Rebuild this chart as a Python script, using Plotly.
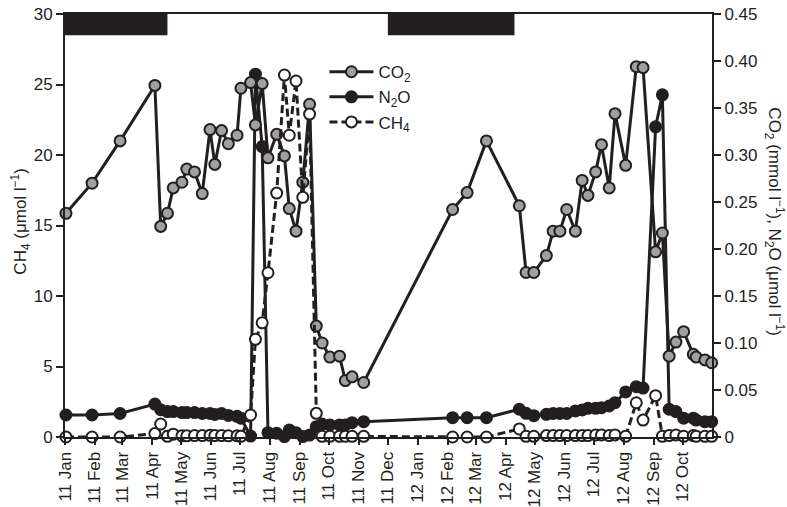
import plotly.graph_objects as go

# ---------------- data ----------------
dates = [
    "2011-01-02", "2011-01-29", "2011-02-27", "2011-04-04", "2011-04-10", "2011-04-17",
    "2011-04-23", "2011-05-02", "2011-05-07", "2011-05-15", "2011-05-23", "2011-05-31",
    "2011-06-05", "2011-06-12", "2011-06-19", "2011-06-28", "2011-07-02", "2011-07-12",
    "2011-07-17", "2011-07-24", "2011-07-30", "2011-08-08", "2011-08-16", "2011-08-21",
    "2011-08-28", "2011-09-04", "2011-09-11", "2011-09-18", "2011-09-24", "2011-10-02",
    "2011-10-12", "2011-10-18", "2011-10-25", "2011-11-06",
    "2012-02-06", "2012-02-21", "2012-03-12", "2012-04-15", "2012-04-22", "2012-04-30",
    "2012-05-13", "2012-05-20", "2012-05-27", "2012-06-03", "2012-06-12", "2012-06-19",
    "2012-06-25", "2012-07-03", "2012-07-09", "2012-07-17", "2012-07-23", "2012-08-03",
    "2012-08-14", "2012-08-21", "2012-09-03", "2012-09-10", "2012-09-17", "2012-09-24",
    "2012-10-02", "2012-10-12", "2012-10-15", "2012-10-24", "2012-10-31",
]

co2 = [  # mmol l-1 (right axis)
    0.238, 0.270, 0.315, 0.374, 0.224, 0.238, 0.265, 0.271, 0.285, 0.282, 0.259, 0.327,
    0.290, 0.326, 0.312, 0.321, 0.371, 0.377, 0.332, 0.376, 0.297, 0.322, 0.299, 0.243,
    0.219, 0.271, 0.354, 0.118, 0.100, 0.085, 0.086, 0.060, 0.064, 0.058,
    0.242, 0.260, 0.315, 0.246, 0.175, 0.175, 0.193, 0.219, 0.219, 0.242, 0.219, 0.273,
    0.257, 0.282, 0.311, 0.265, 0.344, 0.289, 0.394, 0.393, 0.197, 0.217, 0.086, 0.101,
    0.112, 0.088, 0.085, 0.082, 0.079,
]

n2o = [  # umol l-1 (right axis)
    0.0234, 0.0234, 0.025, 0.035, 0.029, 0.027, 0.027, 0.026, 0.026, 0.026, 0.025, 0.025,
    0.024, 0.025, 0.023, 0.022, 0.020, 0.001, 0.386, 0.309, 0.0046, 0.004, 0.0005, 0.0075,
    0.0046, 0.0005, 0.002, 0.011, 0.0138, 0.0128, 0.0128, 0.0128, 0.0152, 0.0163,
    0.0206, 0.0206, 0.0206, 0.0295, 0.0252, 0.0227, 0.0241, 0.025, 0.025, 0.025, 0.0277, 0.0287,
    0.0305, 0.0305, 0.0312, 0.033, 0.0365, 0.048, 0.0535, 0.052, 0.330, 0.364, 0.0295, 0.027,
    0.020, 0.020, 0.018, 0.0163, 0.0163,
]

ch4 = [  # umol l-1 (left axis)
    0, 0, 0, 0.24, 0.92, 0.05, 0.2, 0.08, 0.08, 0.1, 0.1, 0.12,
    0.1, 0.1, 0.08, 0.08, 0.05, 1.56, 6.93, 8.1, 11.65, 17.3, 25.67, 21.4,
    25.25, 17.0, 22.9, 1.68, 0.05, 0.05, 0.05, 0.05, 0.05, 0.05,
    0, 0, 0, 0.57, 0.05, 0.05, 0.1, 0.1, 0.1, 0.1, 0.1, 0.1,
    0.1, 0.15, 0.15, 0.1, 0.15, 0.05, 2.43, 1.2, 2.93, 0.05, 0.1, 0.15,
    0.05, 0.1, 0.05, 0.05, 0.05,
]

ice_start = ["2011-01-01", "2011-12-01"]
ice_end = ["2011-04-17", "2012-04-10"]

left_ticks = [0, 5, 10, 15, 20, 25, 30]
right_ticks = [0, 0.05, 0.10, 0.15, 0.20, 0.25, 0.30, 0.35, 0.40, 0.45]
right_ticktext = ["0", "0.05", "0.10", "0.15", "0.20", "0.25", "0.30", "0.35", "0.40", "0.45"]

# ---------------- style ----------------
INK = "#231f20"
FONT = dict(family="Liberation Sans, Arial, sans-serif", size=17, color=INK)
MSIZE = 11
LW = 3

fig = go.Figure()

fig.add_trace(go.Scatter(
    x=dates, y=n2o, name="N<sub>2</sub>O", yaxis="y", legendrank=2,
    mode="lines+markers", cliponaxis=False,
    line=dict(color=INK, width=LW),
    marker=dict(symbol="circle", size=MSIZE, color=INK, line=dict(color=INK, width=2)),
))
fig.add_trace(go.Scatter(
    x=dates, y=co2, name="CO<sub>2</sub>", yaxis="y", legendrank=1,
    mode="lines+markers", cliponaxis=False,
    line=dict(color=INK, width=LW),
    marker=dict(symbol="circle", size=MSIZE, color="#a0a0a0", line=dict(color=INK, width=2)),
))
fig.add_trace(go.Scatter(
    x=dates, y=ch4, name="CH<sub>4</sub>", yaxis="y2", legendrank=3,
    mode="lines+markers", cliponaxis=False,
    line=dict(color=INK, width=LW, dash="8px,4px"),
    marker=dict(symbol="circle", size=MSIZE, color="white", line=dict(color=INK, width=2)),
))

shapes = []
for s, e in zip(ice_start, ice_end):
    shapes.append(dict(type="rect", xref="x", yref="paper", x0=s, x1=e, y0=0.95, y1=1.0,
                       fillcolor=INK, line=dict(width=0), layer="above"))

fig.update_layout(
    width=787, height=507, autosize=False,
    margin=dict(l=65, r=75, t=14, b=70, pad=0),
    paper_bgcolor="white", plot_bgcolor="white",
    font=FONT,
    showlegend=True,
    legend=dict(x=0.401, y=0.905, xanchor="left", yanchor="top",
                bgcolor="rgba(0,0,0,0)", font=FONT, itemwidth=44,
                tracegroupgap=0),
    xaxis=dict(
        type="date", range=["2011-01-01", "2012-10-31 08:00"], automargin=False,
        tick0="2011-01-01", dtick="M1", tickformat="%y %b", tickangle=-90,
        ticks="outside", ticklen=6, tickwidth=1.5, tickcolor=INK,
        showline=True, linewidth=2, linecolor=INK, mirror=True,
        showgrid=False, zeroline=False, tickfont=FONT,
    ),
    yaxis=dict(
        side="right", range=[0, 0.45], tickvals=right_ticks, ticktext=right_ticktext,
        automargin=False,
        ticks="outside", ticklen=7, tickwidth=1.5, tickcolor=INK,
        showline=True, linewidth=2, linecolor=INK,
        showgrid=False, zeroline=False, tickfont=FONT,
    ),
    yaxis2=dict(
        side="left", overlaying="y", range=[0, 30], tickvals=left_ticks, automargin=False,
        ticks="outside", ticklen=7, tickwidth=1.5, tickcolor=INK,
        showline=True, linewidth=2, linecolor=INK,
        showgrid=False, zeroline=False, tickfont=FONT,
    ),
    shapes=shapes,
    annotations=[
        dict(text="CH<sub>4</sub> (μmol l<sup>−1</sup>)", xref="paper", yref="paper",
             x=-0.069, y=0.51, xanchor="center", yanchor="middle", textangle=-90,
             showarrow=False, font=FONT),
        dict(text="CO<sub>2</sub> (mmol l<sup>−1</sup>), N<sub>2</sub>O (μmol l<sup>−1</sup>)",
             xref="paper", yref="paper", x=1.097, y=0.508, xanchor="center", yanchor="middle",
             textangle=90, showarrow=False, font=FONT),
    ],
)

fig.write_html("out.html")
